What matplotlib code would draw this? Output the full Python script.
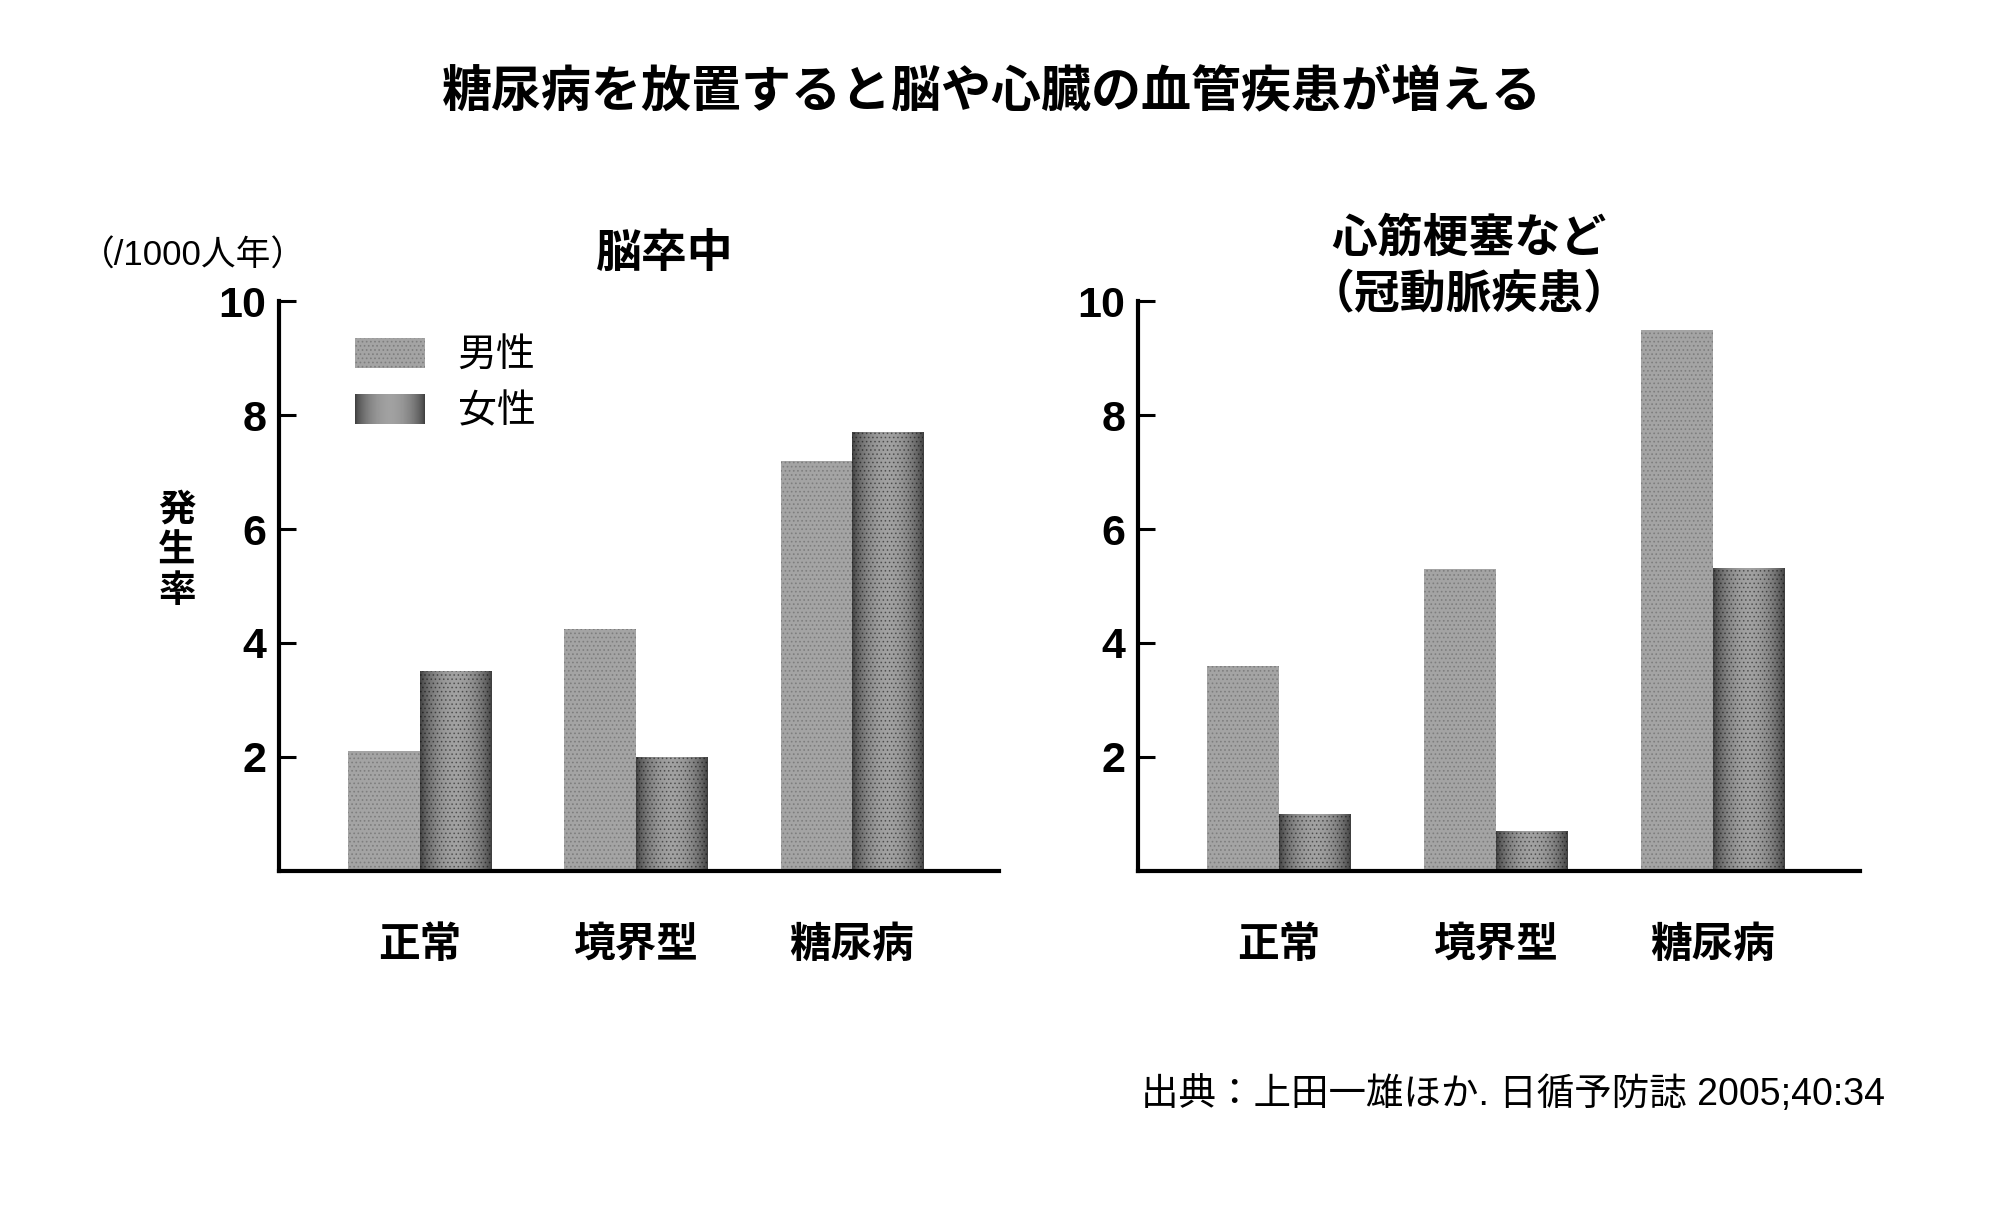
import numpy as np
import matplotlib.pyplot as plt
from matplotlib.legend_handler import HandlerBase
from matplotlib.image import BboxImage
from matplotlib.transforms import Bbox, TransformedBbox
from matplotlib.patches import Patch

plt.rcParams['font.family'] = ['Noto Sans CJK JP', 'DejaVu Sans']
plt.rcParams['hatch.linewidth'] = 0.7

# data (/1000 person-years)
categories = ['正常', '境界型', '糖尿病']
stroke_male = [2.1, 4.25, 7.2]
stroke_female = [3.5, 2.0, 7.7]
chd_male = [3.6, 5.3, 9.5]
chd_female = [1.0, 0.7, 5.3]
yticks = [2, 4, 6, 8, 10]

# shading for the darker (female) bars: dark edges, lighter middle
t = np.linspace(0, 1, 64)
grad = (0.25 + 0.38 * np.sin(np.pi * t) ** 0.7)[None, :]

male_color = '#a4a4a4'
num_font = ['Liberation Sans Narrow', 'Liberation Sans', 'DejaVu Sans']
latin_cjk = ['Liberation Sans', 'Noto Sans CJK JP']


class GradientHandler(HandlerBase):
    def create_artists(self, legend, orig_handle, xdescent, ydescent,
                       width, height, fontsize, trans):
        box = TransformedBbox(Bbox.from_bounds(-xdescent, -ydescent, width, height), trans)
        img = BboxImage(box, cmap='gray', interpolation='bilinear')
        img.set_data(grad)
        img.set_clim(0, 1)
        return [img]


def draw_panel(ax, male, female):
    x = np.arange(len(categories))
    w = 0.33
    ax.bar(x - w / 2, male, w, color=male_color, edgecolor='#7e7e7e',
           linewidth=0, hatch='....', zorder=2)
    for xi, h in zip(x, female):
        ax.imshow(grad, cmap='gray', vmin=0, vmax=1, aspect='auto',
                  interpolation='bilinear', extent=[xi, xi + w, 0, h], zorder=2)
    ax.bar(x + w / 2, female, w, color='none', edgecolor=(0, 0, 0, 0.4),
           linewidth=0, hatch='....', zorder=3)

    ax.set_xlim(-0.65, 2.68)
    ax.set_ylim(0, 10)
    ax.spines['top'].set_visible(False)
    ax.spines['right'].set_visible(False)
    ax.spines['left'].set_linewidth(3)
    ax.spines['bottom'].set_linewidth(3)

    ax.set_yticks(yticks)
    ax.set_yticklabels([str(v) for v in yticks], fontfamily=num_font,
                       fontweight='bold', fontsize=31)
    ax.tick_params(axis='y', direction='in', length=12, width=2.2, pad=9)
    ax.set_xticks(x)
    ax.set_xticklabels(categories, fontweight='bold', fontsize=30)
    ax.tick_params(axis='x', length=0, pad=38)


fig = plt.figure(figsize=(20, 12.09), dpi=100)
ax1 = fig.add_axes([0.1395, 0.2796, 0.36, 0.4714])
ax2 = fig.add_axes([0.569, 0.2796, 0.361, 0.4714])

draw_panel(ax1, stroke_male, stroke_female)
draw_panel(ax2, chd_male, chd_female)

male_h = Patch(facecolor=male_color, edgecolor='#7e7e7e', linewidth=0, hatch='....')
female_h = Patch(facecolor='#555555')
ax1.legend([male_h, female_h], ['男性', '女性'], loc='upper left',
           bbox_to_anchor=(0.105, 0.94), frameon=False, fontsize=28,
           handlelength=1.8, handleheight=0.8, handletextpad=0.85,
           labelspacing=0.42, borderpad=0, borderaxespad=0,
           handler_map={female_h: GradientHandler()})

fig.text(0.496, 0.924, '糖尿病を放置すると脳や心臓の血管疾患が増える',
         ha='center', va='center', fontsize=36, fontweight='bold')
fig.text(0.3325, 0.790, '脳卒中', ha='center', va='center',
         fontsize=33, fontweight='bold')
fig.text(0.7345, 0.8023, '心筋梗塞など', ha='center', va='center',
         fontsize=33, fontweight='bold')
fig.text(0.7345, 0.756, '（冠動脈疾患）', ha='center', va='center',
         fontsize=33, fontweight='bold')
fig.text(0.040, 0.788, '（/1000人年）', ha='left', va='center',
         fontsize=25, family=latin_cjk)
fig.text(0.0885, 0.545, '発\n生\n率', ha='center', va='center',
         fontsize=27, fontweight='bold', linespacing=1.05)
fig.text(0.9425, 0.095, '出典：上田一雄ほか. 日循予防誌 2005;40:34',
         ha='right', va='center', fontsize=27, family=latin_cjk)

fig.savefig('out.png', dpi=100, facecolor='white')
